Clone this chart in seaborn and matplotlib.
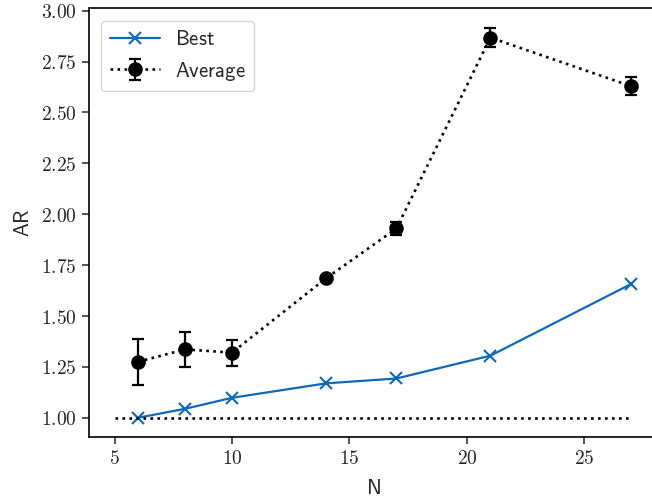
import matplotlib
matplotlib.use("Agg")
import matplotlib.pyplot as plt
import seaborn as sns
import pandas as pd
from matplotlib.ticker import FuncFormatter, MultipleLocator

N = [6, 8, 10, 14, 17, 21, 27]
best = [1.000, 1.044, 1.098, 1.169, 1.193, 1.305, 1.658]
average = [1.275, 1.336, 1.320, 1.685, 1.930, 2.868, 2.629]
average_err = [0.112, 0.085, 0.064, 0.010, 0.030, 0.047, 0.045]
ref_x = [5, 27]
ref_y = [1.0, 1.0]

sns.set_style("ticks")
plt.rcParams["mathtext.fontset"] = "cm"
plt.rcParams["font.family"] = ["DejaVu Sans"]

fig = plt.figure(figsize=(6.52, 5.0), dpi=100)
ax = fig.add_axes([0.136, 0.1254, 0.872, 0.8576])

blue = "#1068b8"
sns.lineplot(x=N, y=best, ax=ax, color=blue, marker="x", markersize=9,
             markeredgewidth=1.5, markeredgecolor=blue, markerfacecolor=blue,
             linewidth=1.6, label=r"$\mathsf{Best}$")
ax.errorbar(N, average, yerr=average_err, color="black", linestyle=":",
            linewidth=1.9, marker="o", markersize=9.5, capsize=4,
            elinewidth=1.6, capthick=1.6, label=r"$\mathsf{Average}$")
sns.lineplot(x=ref_x, y=ref_y, ax=ax, color="black", linestyle=":",
             linewidth=1.9)

ax.set_xlim(3.9, 28.1)
ax.set_ylim(0.904, 3.011)
ax.xaxis.set_major_locator(MultipleLocator(5))
ax.yaxis.set_major_locator(MultipleLocator(0.25))
ax.xaxis.set_major_formatter(FuncFormatter(lambda v, p: f"${v:.0f}$"))
ax.yaxis.set_major_formatter(FuncFormatter(lambda v, p: f"${v:.2f}$"))
ax.tick_params(labelsize=14, length=5, width=1.1, direction="out")
for s in ax.spines.values():
    s.set_linewidth(1.2)
    s.set_color("black")
ax.spines["right"].set_visible(False)

ax.set_xlabel(r"$\mathsf{N}$", fontsize=15, labelpad=7)
ax.set_ylabel(r"$\mathsf{AR}$", fontsize=15, labelpad=6)

h, l = ax.get_legend_handles_labels()
leg = ax.legend(h, l, loc="upper left", fontsize=15, frameon=True,
                fancybox=True, framealpha=0.8, edgecolor="#cccccc",
                borderpad=0.4, handlelength=2.4, handletextpad=0.75,
                borderaxespad=0.6)

fig.savefig("out.png", dpi=100)
